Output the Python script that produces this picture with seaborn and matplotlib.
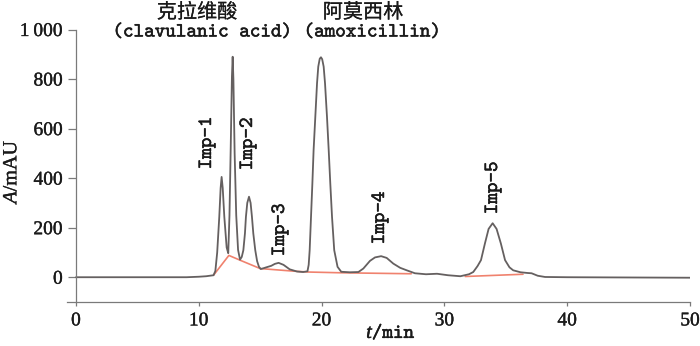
import matplotlib
matplotlib.use("Agg")
import matplotlib.pyplot as plt
import matplotlib.patheffects as pe
import seaborn as sns
import pandas as pd

# ---- data ----
trace_t = [0, 9.0, 10.0, 10.6, 11.2, 11.35, 11.5, 11.67, 11.78, 11.86, 11.95, 12.08, 12.27, 12.4,
           12.5, 12.6, 12.7, 12.76, 12.82, 12.92, 13.05, 13.2, 13.36, 13.5, 13.63, 13.76, 13.84,
           13.95, 14.09, 14.22, 14.33, 14.44, 14.6, 14.75, 14.9, 15.05, 15.25, 15.5, 15.9, 16.2,
           16.5, 16.9, 17.4, 18.0, 18.5, 18.85, 18.95, 19.03, 19.14, 19.25, 19.35, 19.49, 19.63,
           19.73, 19.85, 19.95, 20.05, 20.17, 20.28, 20.44, 20.58, 20.71, 20.85, 21.03, 21.3, 21.6,
           22.3, 23.0, 23.4, 23.94, 24.35, 24.85, 25.3, 25.84, 26.4, 26.93, 27.6, 28.5, 29.4, 30.3,
           31.3, 32.0, 32.35, 32.7, 32.98, 33.3, 33.6, 33.93, 34.25, 34.6, 34.94, 35.3, 35.6, 36.2,
           36.8, 37.1, 37.6, 38.2, 40.0, 50.0]
trace_a = [0, 0, 2, 4, 8, 25, 100, 244, 360, 405, 360, 244, 120, 97,
           250, 520, 810, 890, 800, 500, 250, 110, 71, 82, 109, 177, 244,
           300, 325, 300, 244, 177, 109, 65, 42, 33, 36, 40, 46, 54,
           58, 50, 32, 23, 21, 24, 50, 109, 244, 378, 513, 648, 783,
           850, 882, 888, 880, 850, 783, 648, 513, 378, 244, 109, 42, 22,
           20, 21, 35, 66, 80, 85, 78, 55, 38, 28, 16, 12, 14, 8,
           4, 12, 21, 45, 69, 136, 195, 218, 195, 136, 69, 40, 28, 20,
           17, 16, 6, 1, 0, -2]

base1_t = [11.2, 12.45, 13.4, 15.0, 17.6, 18.9, 21.5, 27.3]
base1_a = [8, 88, 68, 35, 25, 21, 18, 14]
base2_t = [31.7, 36.4]
base2_a = [3, 12]

y_ticks = [0, 200, 400, 600, 800, 1000]
y_tick_labels = ["0", "200", "400", "600", "800", "1\u2009000"]
x_ticks = [0, 10, 20, 30, 40, 50]
x_tick_labels = ["0", "10", "20", "30", "40", "50"]

peak_labels = ["Imp-1", "Imp-2", "Imp-3", "Imp-4", "Imp-5"]
compound_cn = ["克拉维酸", "阿莫西林"]
compound_en = ["(clavulanic acid)", "(amoxicillin)"]

# ---- style ----
sns.set_theme(style="white")
plt.rcParams["font.family"] = ["Liberation Serif", "DejaVu Sans"]
plt.rcParams["mathtext.fontset"] = "custom"
plt.rcParams["mathtext.it"] = "Liberation Serif:italic"
plt.rcParams["mathtext.rm"] = "Liberation Serif"

W, H = 700, 346
fig = plt.figure(figsize=(7.0, 3.46), dpi=100)
ax_l, ax_r = 67, 690
ax_top, ax_bot = 29.5, 302
ax = fig.add_axes([ax_l / W, 1 - ax_bot / H, (ax_r - ax_l) / W, (ax_bot - ax_top) / H])

trace = pd.DataFrame({"t": trace_t, "A": trace_a})
b1 = pd.DataFrame({"t": base1_t, "A": base1_a})
b2 = pd.DataFrame({"t": base2_t, "A": base2_a})

salmon = "#f0826e"
gray = "#656060"
sns.lineplot(data=b1, x="t", y="A", ax=ax, color=salmon, lw=1.2, estimator=None, sort=False)
sns.lineplot(data=b2, x="t", y="A", ax=ax, color=salmon, lw=1.2, estimator=None, sort=False)
sns.lineplot(data=trace, x="t", y="A", ax=ax, color=gray, lw=1.3, estimator=None, sort=False)

ax.set_xlim(-0.73, 50)
ax.set_ylim(-100, 1000)
ax.set_xlabel("")
ax.set_ylabel("")

for s in ["top", "right"]:
    ax.spines[s].set_visible(False)
ax.spines["left"].set_position(("data", 0))
for s in ["left", "bottom"]:
    ax.spines[s].set_color("#7a7a7a")
    ax.spines[s].set_linewidth(0.9)

ax.set_yticks(y_ticks)
ax.set_yticklabels(y_tick_labels)
ax.set_xticks(x_ticks)
ax.set_xticklabels(x_tick_labels)
ax.tick_params(axis="y", direction="out", length=6, width=0.9, color="#7a7a7a",
               pad=3.5, labelsize=14, left=True)
ax.tick_params(axis="x", direction="out", length=3, width=0.9, color="#7a7a7a",
               pad=4.5, labelsize=14, bottom=True)
thick = [pe.withStroke(linewidth=0.25, foreground="#1a1a1a")]
for lab in ax.get_xticklabels() + ax.get_yticklabels():
    lab.set_color("#1a1a1a")
    lab.set_path_effects(thick)

def ftext(px, py, s, stroke=0.35, **kw):
    fig.text(px / W, 1 - py / H, s, ha="center", va="center", color="#1a1a1a",
             path_effects=[pe.withStroke(linewidth=stroke, foreground="#1a1a1a")], **kw)

cjk = ["Noto Sans CJK SC", "DejaVu Sans"]
ftext(197, 12.5, compound_cn[0], family=cjk, fontsize=14.5, stroke=0.1)
ftext(363, 12.5, compound_cn[1], family=cjk, fontsize=14.5, stroke=0.1)
ftext(202, 32.5, compound_en[0], family="cmtt10", fontsize=14.5)
ftext(372, 32.5, compound_en[1], family="cmtt10", fontsize=14.5)

label_pos = [(207, 143), (248, 144), (280, 230), (380, 218), (493, 188)]
for (px, py), s in zip(label_pos, peak_labels):
    ftext(px, py, s, family="cmtt10", fontsize=14.5, rotation=90)

ftext(391, 333, r"$t$/min", family="cmtt10", fontsize=14.5)
ftext(12, 171, r"$A$/mAU", family="Liberation Serif", fontsize=14.5, rotation=90, stroke=0.2)

fig.savefig("out.png", dpi=100)
